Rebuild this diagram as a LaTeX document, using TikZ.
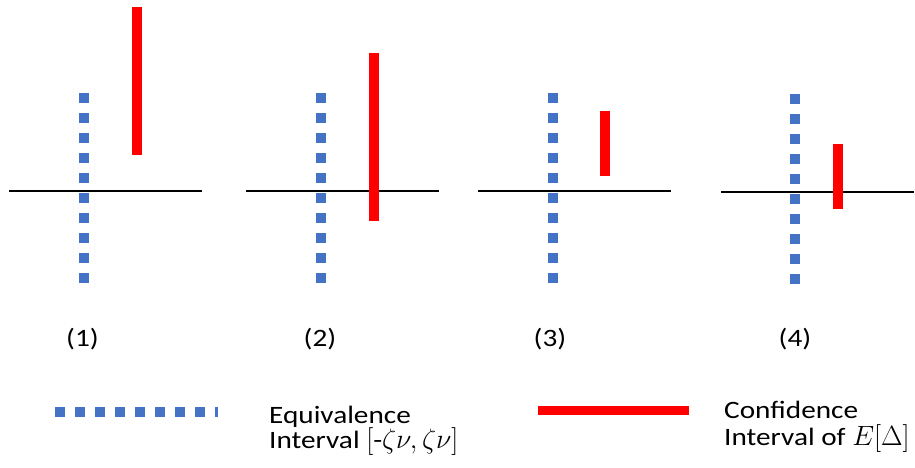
\documentclass[tikz,border=0pt]{standalone}
\usepackage{fontspec}
\setmainfont[FakeStretch=1.17]{Carlito}
\definecolor{eqblue}{RGB}{68,114,196}
\definecolor{cired}{RGB}{255,0,0}
\newcommand{\bigmath}[1]{\scalebox{1.12}{$#1$}}
\begin{document}
\begin{tikzpicture}[x=1pt,y=-1pt,
  eqdots/.style={eqblue,line width=10pt,dash pattern=on 10pt off 10pt},
  cibar/.style={cired,line width=10pt},
  axisline/.style={black,line width=2pt},
  lbl/.style={font=\fontsize{25}{27}\selectfont,inner sep=0pt},
  legtxt/.style={font=\fontsize{25}{27}\selectfont,inner sep=0pt,anchor=base west}]
\useasboundingbox (0,0) rectangle (915,467);
% panel 1
\draw[axisline] (9,191) -- (202,191);
\draw[eqdots] (84,93) -- (84,284);
\draw[cibar] (137,7) -- (137,155);
\node[lbl] (l1) at (82.5,339) {(1)};
% panel 2
\draw[axisline] (246,191) -- (439,191);
\draw[eqdots] (321,93) -- (321,284);
\draw[cibar] (374,53) -- (374,221);
\node[lbl] (l2) at (320,339) {(2)};
% panel 3
\draw[axisline] (478,190.5) -- (671,190.5);
\draw[eqdots] (553,92.5) -- (553,284);
\draw[cibar] (605,111) -- (605,176);
\node[lbl] (l3) at (550,339) {(3)};
% panel 4
\draw[axisline] (721,192) -- (914,192);
\draw[eqdots] (795,94) -- (795,285);
\draw[cibar] (838,144) -- (838,209);
\node[lbl] (l4) at (795,339) {(4)};
% legend
\draw[eqdots] (55,412) -- (218,412);
\node[legtxt] (t1) at (269,423) {Equivalence};
\node[legtxt] (t2) at (269,448) {Interval \bigmath{[}-\bigmath{\zeta\nu,\zeta\nu]}};
\draw[cibar,line width=9pt] (538,410.5) -- (689,410.5);
\node[legtxt] (t3) at (724,418) {Confidence};
\node[legtxt] (t4) at (724,445) {Interval of \bigmath{E[\Delta]}};
\end{tikzpicture}
\end{document}
